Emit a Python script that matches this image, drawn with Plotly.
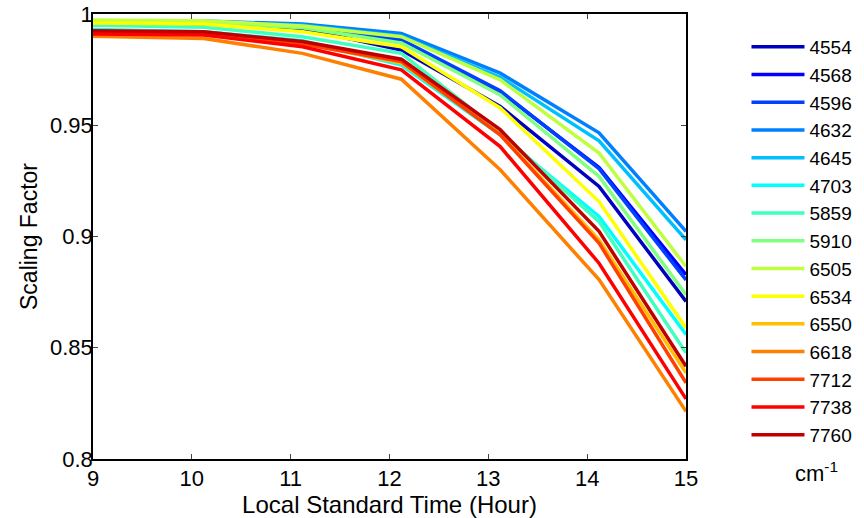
import plotly.graph_objects as go

hours = [9, 10.12, 11.12, 12.12, 13.12, 14.12, 15]

wavenumbers = ["4554", "4568", "4596", "4632", "4645", "4703", "5859", "5910",
               "6505", "6534", "6550", "6618", "7712", "7738", "7760"]

s4554 = [0.9960, 0.9955, 0.9935, 0.9838, 0.9585, 0.9225, 0.8708]
s4568 = [0.9965, 0.9960, 0.9940, 0.9878, 0.9651, 0.9310, 0.8828]
s4596 = [0.9965, 0.9960, 0.9943, 0.9885, 0.9655, 0.9305, 0.8805]
s4632 = [0.9970, 0.9968, 0.9955, 0.9913, 0.9734, 0.9466, 0.9023]
s4645 = [0.9968, 0.9966, 0.9950, 0.9900, 0.9716, 0.9430, 0.8985]
s4703 = [0.9930, 0.9920, 0.9880, 0.9771, 0.9457, 0.9090, 0.8560]
s5859 = [0.9950, 0.9940, 0.9898, 0.9823, 0.9470, 0.9067, 0.8477]
s5910 = [0.9965, 0.9962, 0.9938, 0.9870, 0.9636, 0.9270, 0.8738]
s6505 = [0.9973, 0.9970, 0.9946, 0.9898, 0.9704, 0.9375, 0.8865]
s6534 = [0.9960, 0.9955, 0.9920, 0.9853, 0.9578, 0.9157, 0.8589]
s6550 = [0.9925, 0.9918, 0.9870, 0.9780, 0.9460, 0.8985, 0.8387]
s6618 = [0.9900, 0.9890, 0.9823, 0.9707, 0.9300, 0.8806, 0.8214]
s7712 = [0.9920, 0.9910, 0.9865, 0.9786, 0.9457, 0.8970, 0.8342]
s7738 = [0.9910, 0.9906, 0.9853, 0.9749, 0.9404, 0.8880, 0.8270]
s7760 = [0.9925, 0.9920, 0.9876, 0.9797, 0.9480, 0.9023, 0.8417]

series = [s4554, s4568, s4596, s4632, s4645, s4703, s5859, s5910,
          s6505, s6534, s6550, s6618, s7712, s7738, s7760]

colors = ["#0000BF", "#0000FF", "#0040FF", "#0080FF", "#00BFFF", "#00FFFF",
          "#40FFBF", "#80FF80", "#BFFF40", "#FFFF00", "#FFBF00", "#FF8000",
          "#FF4000", "#FF0000", "#BF0000"]

x_ticks = [9, 10, 11, 12, 13, 14, 15]
y_ticks = [0.8, 0.85, 0.9, 0.95, 1]

fig = go.Figure()
for name, vals, col in zip(wavenumbers, series, colors):
    fig.add_trace(go.Scatter(x=hours, y=vals, mode="lines", name=name,
                             line=dict(color=col, width=3.5)))

font = "Liberation Sans, Arial, sans-serif"
fig.update_layout(
    width=864, height=518,
    margin=dict(l=93, r=178, t=14, b=59, autoexpand=False),
    plot_bgcolor="white", paper_bgcolor="white",
    font=dict(family=font, size=22, color="black"),
    showlegend=True,
    legend=dict(x=1.102, y=0.9685, xanchor="left", yanchor="top",
                font=dict(size=19, family=font), itemwidth=53,
                tracegroupgap=0, bgcolor="rgba(0,0,0,0)"),
    xaxis=dict(range=[9, 15], tickvals=x_ticks, ticks="inside", ticklen=5,
               showline=True, linecolor="black", linewidth=1.5, mirror="ticks",
               showgrid=False, zeroline=False, automargin=False,
               tickfont=dict(size=22), ticklabelstandoff=-1,
               title=dict(text="Local Standard Time (Hour)", font=dict(size=24), standoff=0)),
    yaxis=dict(range=[0.8, 1], tickvals=y_ticks, ticks="inside", ticklen=5,
               showline=True, linecolor="black", linewidth=1.5, mirror="ticks",
               showgrid=False, zeroline=False, automargin=False,
               tickfont=dict(size=22), ticklabelstandoff=-6,
               title=dict(text="Scaling Factor", font=dict(size=23), standoff=6)),
    annotations=[dict(text="cm<sup>-1</sup>", xref="paper", yref="paper",
                      x=1.18, y=-0.03, xanchor="left", yanchor="middle",
                      showarrow=False, font=dict(size=22, family=font))],
)

fig.write_html("out.html", config={"displayModeBar": False},
               post_script="document.body.style.margin='0';document.body.style.padding='0';")
